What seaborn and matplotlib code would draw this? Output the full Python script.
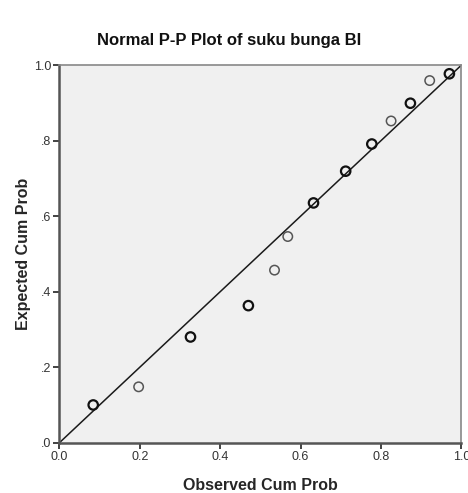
import matplotlib
matplotlib.use("Agg")
import matplotlib.pyplot as plt
import seaborn as sns
import pandas as pd

# Observed vs expected cumulative probabilities
observed = [0.084, 0.197, 0.326, 0.470, 0.535, 0.568, 0.632, 0.712, 0.777, 0.825, 0.873, 0.921, 0.970]
expected = [0.100, 0.148, 0.280, 0.363, 0.457, 0.546, 0.635, 0.719, 0.791, 0.852, 0.899, 0.959, 0.977]
# how many cases overlap at each point (overlaps render darker)
counts = [2, 1, 2, 2, 1, 1, 2, 2, 2, 1, 2, 1, 2]

x_ticks = [0.0, 0.2, 0.4, 0.6, 0.8, 1.0]
x_labels = ["0.0", "0.2", "0.4", "0.6", "0.8", "1.0"]
y_ticks = [0.0, 0.2, 0.4, 0.6, 0.8, 1.0]
y_labels = [".0", ".2", ".4", ".6", ".8", "1.0"]

df = pd.DataFrame({"Observed": observed, "Expected": expected, "n": counts})

sns.set_style("ticks")
plt.rcParams["font.family"] = ["Liberation Sans", "DejaVu Sans"]

fig = plt.figure(figsize=(4.68, 4.93), dpi=100)
ax = fig.add_axes([0.127, 0.102, 0.859, 0.766])
ax.set_facecolor("#f0f0f0")

# reference line
ax.plot([0, 1], [0, 1], color="#1a1a1a", lw=1.1, zorder=2)

single = df[df["n"] == 1]
multi = df[df["n"] > 1]
sns.scatterplot(data=single, x="Observed", y="Expected", ax=ax, marker="o", s=46,
                facecolor="none", edgecolor="#555555", linewidth=1.1, zorder=3)
sns.scatterplot(data=multi, x="Observed", y="Expected", ax=ax, marker="o", s=46,
                facecolor="none", edgecolor="#111111", linewidth=1.6, zorder=3)

ax.set_xlim(0, 1)
ax.set_ylim(0, 1)
ax.set_xticks(x_ticks)
ax.set_xticklabels(x_labels)
ax.set_yticks(y_ticks)
ax.set_yticklabels(y_labels)
ax.tick_params(axis="both", direction="out", length=4, width=1.2, color="#222222",
               labelsize=9, labelcolor="#333333", pad=2)

for side in ["top", "right"]:
    ax.spines[side].set_visible(True)
    ax.spines[side].set_color("#888888")
    ax.spines[side].set_linewidth(1.2)
for side in ["left", "bottom"]:
    ax.spines[side].set_color("#555555")
    ax.spines[side].set_linewidth(1.8)

ax.set_xlabel("Observed Cum Prob", fontsize=11.5, fontweight="bold", labelpad=11)
ax.set_ylabel("Expected Cum Prob", fontsize=11.5, fontweight="bold", labelpad=2)
fig.text(0.49, 0.918, "Normal P-P Plot of suku bunga BI", ha="center", va="center",
         fontsize=12, fontweight="bold", color="#111111")

fig.savefig("out.png", dpi=100)
